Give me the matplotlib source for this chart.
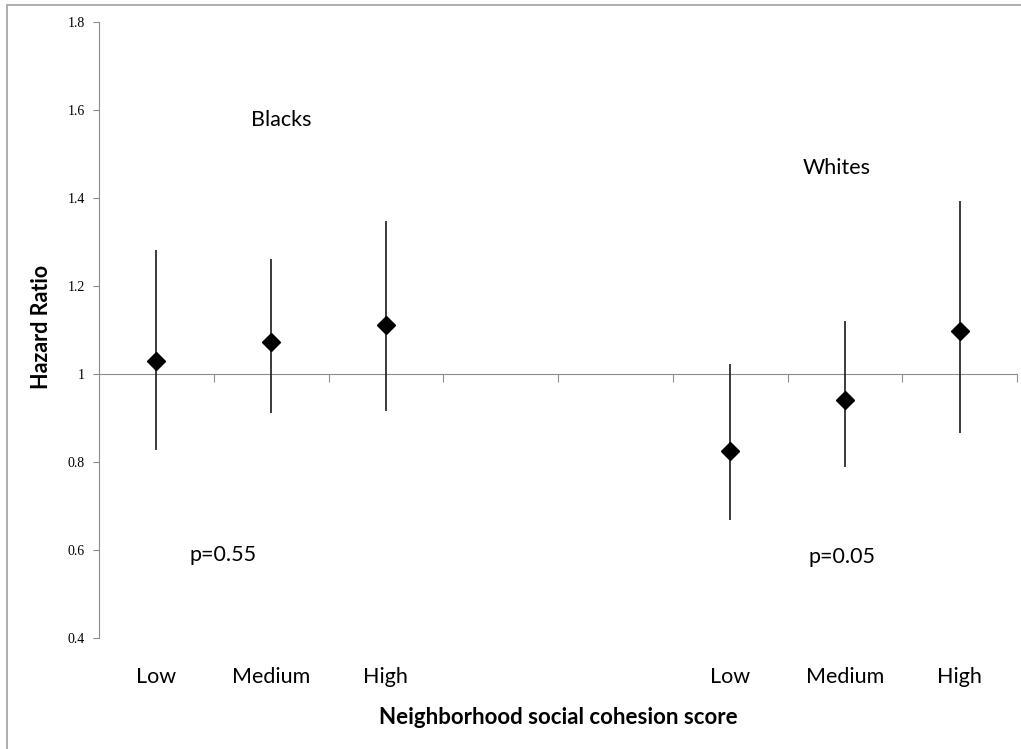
import matplotlib
matplotlib.use("Agg")
import matplotlib.pyplot as plt
from matplotlib.patches import Rectangle
import numpy as np

# hazard ratios with 95% CI by cohesion tertile
categories = ["Low", "Medium", "High", "", "", "Low", "Medium", "High"]
blacks_pos = [0, 1, 2]
blacks_hr = [1.03, 1.072, 1.111]
blacks_lo = [0.827, 0.912, 0.916]
blacks_hi = [1.282, 1.261, 1.348]
whites_pos = [5, 6, 7]
whites_hr = [0.825, 0.941, 1.098]
whites_lo = [0.668, 0.789, 0.865]
whites_hi = [1.022, 1.121, 1.393]
yticks = [0.4, 0.6, 0.8, 1.0, 1.2, 1.4, 1.6, 1.8]
ytick_labels = ["0.4", "0.6", "0.8", "1", "1.2", "1.4", "1.6", "1.8"]

sans = ["Lato", "DejaVu Sans"]
serif = ["Liberation Serif", "DejaVu Serif"]
axis_grey = "#8c8c8c"

fig = plt.figure(figsize=(10.21, 7.49), dpi=100)
ax = fig.add_axes([99 / 1021, 1 - 638 / 749, (1017 - 99) / 1021, 616 / 749])

# chart area border
fig.patches.append(Rectangle((7 / 1021, -0.01), 1.1, 1 - 5 / 749 + 0.01,
                             transform=fig.transFigure, fill=False,
                             edgecolor="#a0a0a0", linewidth=1.2))

for pos, hr, lo, hi in [(blacks_pos, blacks_hr, blacks_lo, blacks_hi),
                        (whites_pos, whites_hr, whites_lo, whites_hi)]:
    hr = np.array(hr)
    err = np.vstack([hr - np.array(lo), np.array(hi) - hr])
    ax.errorbar(pos, hr, yerr=err, fmt="D", color="black", ecolor="#1a1a1a",
                elinewidth=1.2, capsize=0, markersize=9, zorder=3)

ax.set_xlim(-0.5, len(categories) - 0.5)
ax.set_ylim(0.4, 1.8)

# horizontal axis crosses at HR = 1
ax.spines["top"].set_visible(False)
ax.spines["right"].set_visible(False)
ax.spines["bottom"].set_position(("data", 1))
ax.spines["bottom"].set_color(axis_grey)
ax.spines["left"].set_color(axis_grey)

ax.set_xticks(np.arange(len(categories)) + 0.5)
ax.set_xticklabels([])
ax.tick_params(axis="x", direction="out", length=6, color=axis_grey)

ax.set_yticks(yticks)
ax.set_yticklabels(ytick_labels, fontfamily=serif, fontsize=10)
ax.tick_params(axis="y", direction="out", length=4, color=axis_grey, pad=6)

for i, lab in enumerate(categories):
    ax.text(i, -0.063, lab, transform=ax.get_xaxis_transform(),
            ha="center", va="center", fontfamily=sans, fontsize=15.5)

ax.text(1.086, 1.577, "Blacks", ha="center", va="center", fontfamily=sans, fontsize=15.5)
ax.text(5.93, 1.468, "Whites", ha="center", va="center", fontfamily=sans, fontsize=15.5)
ax.text(0.58, 0.589, "p=0.55", ha="center", va="center", fontfamily=sans, fontsize=15.5)
ax.text(5.975, 0.584, "p=0.05", ha="center", va="center", fontfamily=sans, fontsize=15.5)

fig.text(41 / 1021, 1 - 327 / 749, "Hazard Ratio", rotation=90, ha="center",
         va="center", fontfamily=sans, fontsize=15.5, fontweight="bold")
fig.text(558 / 1021, 1 - 717 / 749, "Neighborhood social cohesion score",
         ha="center", va="center", fontfamily=sans, fontsize=16, fontweight="bold")

fig.savefig("out.png", dpi=100)
